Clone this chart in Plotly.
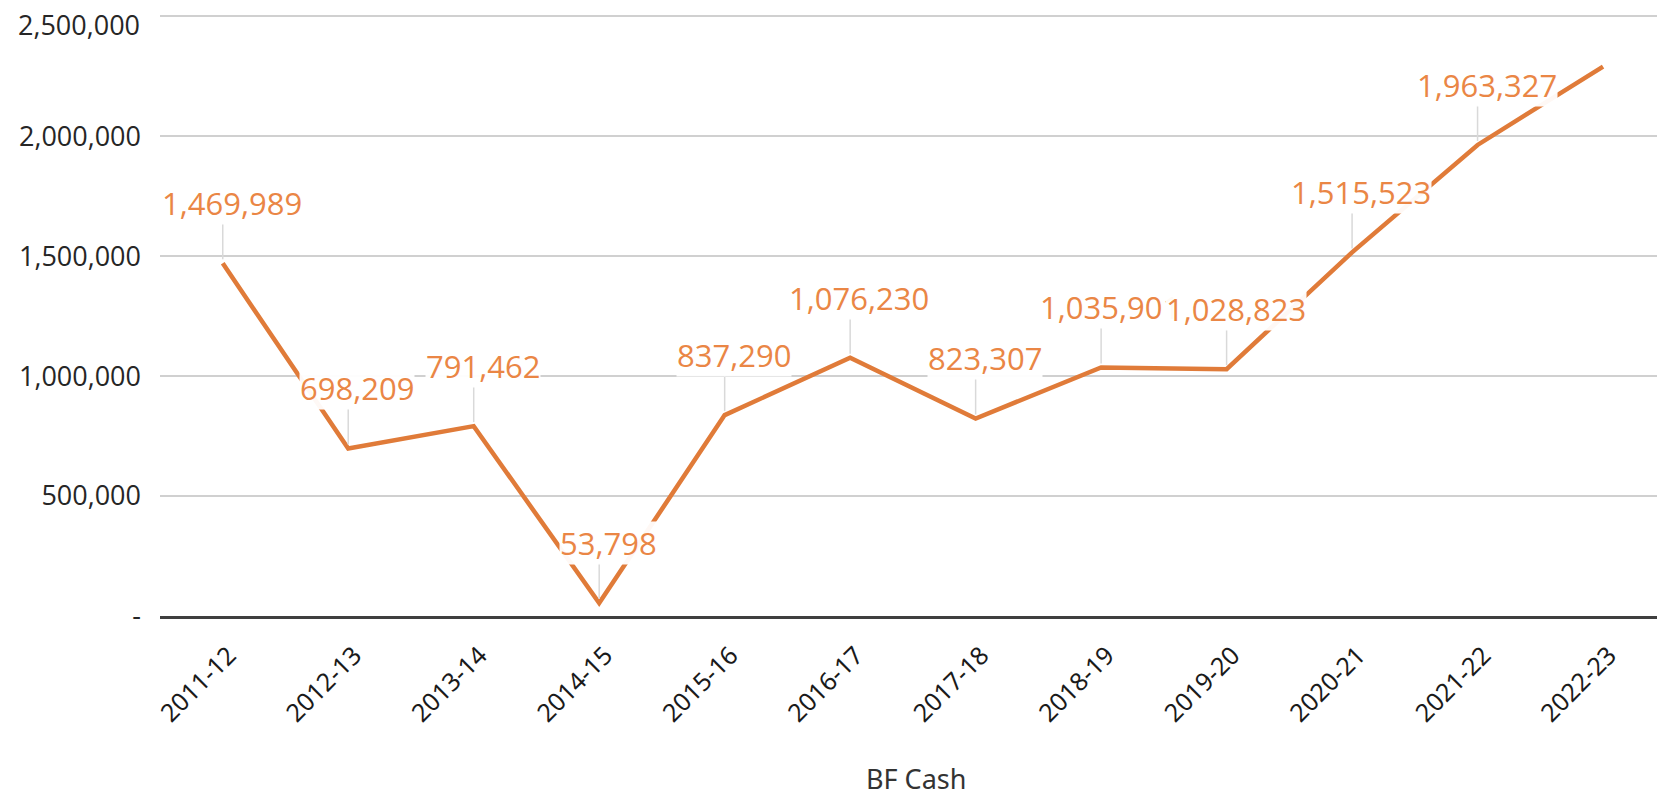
import plotly.graph_objects as go

categories = ["2011-12", "2012-13", "2013-14", "2014-15", "2015-16", "2016-17",
              "2017-18", "2018-19", "2019-20", "2020-21", "2021-22", "2022-23"]
bf_cash = [1469989, 698209, 791462, 53798, 837290, 1076230,
           823307, 1035901, 1028823, 1515523, 1963327, 2290000]
labelled = [True] * 11 + [False]

y_tickvals = [0, 500000, 1000000, 1500000, 2000000, 2500000]
y_ticktext = ["-", "500,000", "1,000,000", "1,500,000", "2,000,000", "2,500,000"]
x_title = "BF Cash"

LINE = "#E07B39"
LABEL = "#EA8645"
YTICK_FONT = dict(family="Open Sans", size=27, color="#262626")

fig = go.Figure()
fig.add_trace(go.Scatter(
    x=categories, y=bf_cash, mode="lines",
    line=dict(color=LINE, width=4.5),
    showlegend=False, hoverinfo="x+y",
))

for c, v, show in zip(categories, bf_cash, labelled):
    if not show:
        continue
    fig.add_shape(type="line", xref="x", yref="y", x0=c, x1=c,
                  ysizemode="pixel", yanchor=v, y0=4, y1=40,
                  line=dict(color="#D9D9D9", width=1.5), layer="above")
    fig.add_annotation(x=c, y=v, text=f"{v:,}", showarrow=False,
                       yshift=60, xshift=9,
                       font=dict(family="Open Sans", size=31, color=LABEL),
                       bgcolor="rgba(255,255,255,0.95)", borderpad=0)

# the top tick label sits at the very edge of the page: draw it as text nudged inside
axis_ticktext = y_ticktext[:-1] + [""]
fig.add_annotation(xref="paper", x=0, xanchor="right", xshift=-19,
                   yref="y", y=y_tickvals[-1], yanchor="middle", yshift=-8,
                   text=y_ticktext[-1], showarrow=False, font=YTICK_FONT,
                   borderpad=0)

# axis title
fig.add_annotation(xref="paper", x=0.5, xshift=7, yref="paper", y=0,
                   yanchor="middle", yshift=-162, text=x_title, showarrow=False,
                   font=dict(family="Noto Sans", size=27, color="#333333"),
                   borderpad=0)

fig.update_layout(
    width=1649, height=787,
    margin=dict(l=152, r=0, t=7, b=179, autoexpand=False),
    paper_bgcolor="white", plot_bgcolor="white",
    font=dict(family="Open Sans", color="#222222"),
    xaxis=dict(
        type="category", range=[-0.5, 11.43], automargin=False,
        showline=True, linecolor="#3F3F3F", linewidth=2.5,
        showgrid=False, ticks="outside", ticklen=12, tickcolor="rgba(0,0,0,0)",
        tickangle=-45,
        tickfont=dict(family="Noto Sans", size=25, color="#1A1A1A"),
        ticklabelshift=6,
    ),
    yaxis=dict(
        range=[0, 2505000], automargin=False,
        tickvals=y_tickvals, ticktext=axis_ticktext,
        showgrid=True, gridcolor="#D0D0D0", gridwidth=1.5,
        zeroline=False, showline=False, ticks="",
        tickfont=YTICK_FONT,
        ticklabelstandoff=18,
    ),
)

fig.write_html("out.html")
